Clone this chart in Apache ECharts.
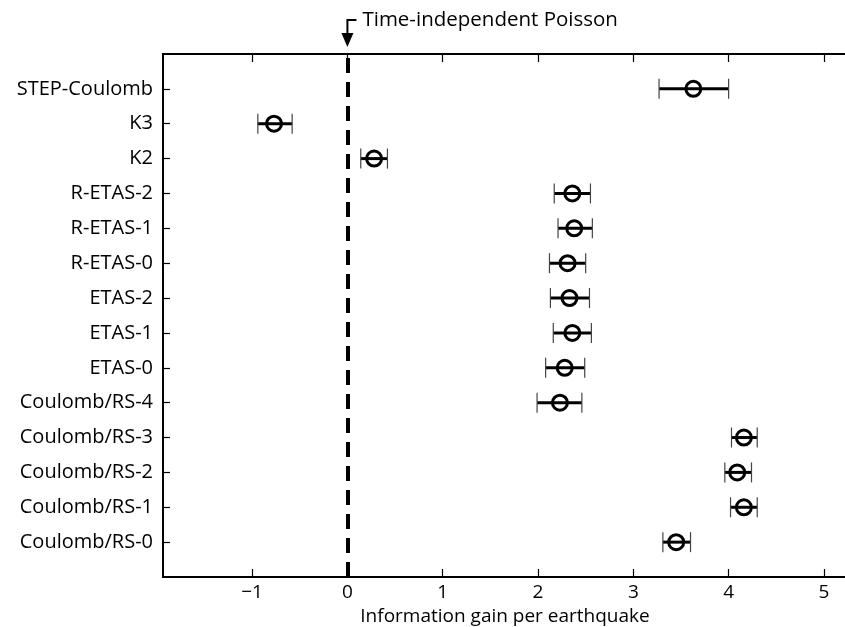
<!DOCTYPE html>
<html>
<head>
<meta charset="utf-8">
<script src="https://cdn.jsdelivr.net/npm/echarts@6/dist/echarts.min.js"></script>
<style>
  html, body { margin: 0; padding: 0; background: #fff; }
  #chart { width: 845px; height: 627px; }
</style>
</head>
<body>
<div id="chart"></div>
<script>
// models listed top to bottom, as in the figure
const models = ['STEP-Coulomb', 'K3', 'K2', 'R-ETAS-2', 'R-ETAS-1', 'R-ETAS-0', 'ETAS-2', 'ETAS-1', 'ETAS-0',
  'Coulomb/RS-4', 'Coulomb/RS-3', 'Coulomb/RS-2', 'Coulomb/RS-1', 'Coulomb/RS-0']
const gain = [3.63, -0.77, 0.28, 2.36, 2.38, 2.31, 2.33, 2.36, 2.28, 2.23, 4.16, 4.09, 4.16, 3.45]
const lower = [3.27, -0.94, 0.14, 2.17, 2.21, 2.12, 2.13, 2.16, 2.08, 1.99, 4.03, 3.96, 4.02, 3.31]
const upper = [4.00, -0.58, 0.42, 2.55, 2.57, 2.50, 2.54, 2.56, 2.49, 2.46, 4.30, 4.24, 4.30, 3.60]
const xTicks = [-1, 0, 1, 2, 3, 4, 5]

const n = models.length
const yPos = models.map((m, i) => n - 1 - i)
const font = '"Open Sans", "DejaVu Sans", sans-serif'
const xMin = -1.935
const xMax = 5.242

const chart = echarts.init(document.getElementById('chart'))

const option = {
  animation: false,
  grid: {
    left: 163,
    right: -2,
    top: 54,
    bottom: 50,
    outerBoundsMode: 'none',
    containLabel: false,
    show: true,
    borderColor: '#000',
    borderWidth: 2
  },
  xAxis: [
    {
      type: 'value',
      min: xMin,
      max: xMax,
      name: 'Information gain per earthquake',
      nameLocation: 'middle',
      nameGap: 25,
      nameTextStyle: { fontFamily: font, fontSize: 19, color: '#000' },
      axisLine: { show: false, onZero: false },
      splitLine: { show: false },
      axisTick: {
        inside: true,
        length: 8,
        customValues: xTicks,
        lineStyle: { color: '#000', width: 1.2 }
      },
      axisLabel: {
        customValues: xTicks,
        margin: 6,
        fontFamily: font,
        fontSize: 19,
        color: '#000',
        formatter: (v) => String(v).replace('-', '\u2212')
      }
    },
    {
      type: 'value',
      position: 'top',
      min: xMin,
      max: xMax,
      axisLine: { show: false, onZero: false },
      splitLine: { show: false },
      axisLabel: { show: false },
      axisTick: {
        inside: true,
        length: 8,
        customValues: xTicks,
        lineStyle: { color: '#000', width: 1.2 }
      }
    }
  ],
  yAxis: {
    type: 'value',
    min: -1,
    max: n,
    axisLine: { show: false, onZero: false },
    splitLine: { show: false },
    axisTick: {
      inside: true,
      length: 7,
      customValues: yPos,
      lineStyle: { color: '#000', width: 1.2 }
    },
    axisLabel: {
      customValues: yPos,
      margin: 10,
      fontFamily: font,
      fontSize: 20,
      color: '#000',
      formatter: (v) => models[n - 1 - v]
    }
  },
  series: [
    {
      // error bars
      type: 'custom',
      data: models.map((m, i) => [lower[i], upper[i], yPos[i]]),
      encode: { x: [0, 1], y: 2 },
      z: 3,
      renderItem: (params, api) => {
        const a = api.coord([api.value(0), api.value(2)])
        const b = api.coord([api.value(1), api.value(2)])
        const h = 10
        return {
          type: 'group',
          children: [
            { type: 'line', shape: { x1: a[0], y1: a[1], x2: b[0], y2: b[1] }, style: { stroke: '#000', lineWidth: 3 } },
            { type: 'line', shape: { x1: a[0], y1: a[1] - h, x2: a[0], y2: a[1] + h }, style: { stroke: '#444', lineWidth: 1.2 } },
            { type: 'line', shape: { x1: b[0], y1: b[1] - h, x2: b[0], y2: b[1] + h }, style: { stroke: '#444', lineWidth: 1.2 } }
          ]
        }
      }
    },
    {
      type: 'scatter',
      data: models.map((m, i) => [gain[i], yPos[i]]),
      symbol: 'circle',
      symbolSize: 15,
      z: 4,
      itemStyle: { color: 'rgba(0,0,0,0)', borderColor: '#000', borderWidth: 3, opacity: 1 },
      markLine: {
        silent: true,
        symbol: ['none', 'none'],
        label: { show: false },
        lineStyle: { color: '#000', width: 4, type: [15, 9] },
        data: [{ xAxis: 0 }]
      }
    }
  ]
}

chart.setOption(option)

// annotation for the time-independent Poisson reference line
const x0 = chart.convertToPixel({ xAxisIndex: 0 }, 0)
chart.setOption({
  graphic: [
    {
      type: 'polyline',
      shape: { points: [[x0 + 9, 20], [x0, 20], [x0, 36]] },
      style: { stroke: '#000', lineWidth: 2, fill: null }
    },
    {
      type: 'polygon',
      shape: { points: [[x0 - 6, 33], [x0 + 6, 33], [x0, 47]] },
      style: { fill: '#000' }
    },
    {
      type: 'text',
      left: x0 + 15,
      top: 10,
      style: { text: 'Time-independent Poisson', fontFamily: font, fontSize: 20.5, fill: '#000' }
    }
  ]
})
</script>
</body>
</html>
